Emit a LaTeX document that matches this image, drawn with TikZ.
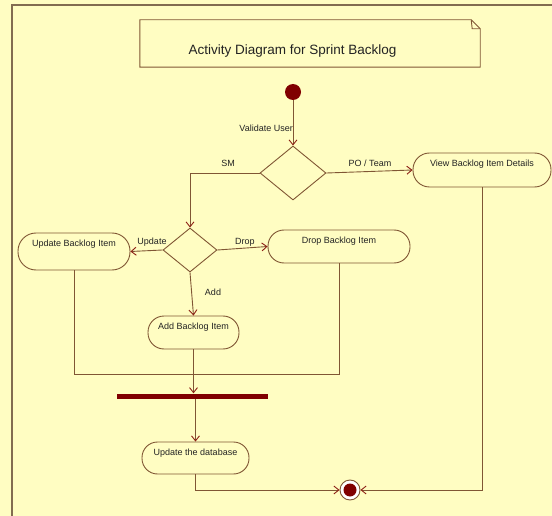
\documentclass[tikz,border=0pt]{standalone}
\usepackage{fontspec}
\setmainfont{Liberation Sans}
\usetikzlibrary{shapes.geometric,arrows.meta}
\definecolor{paper}{RGB}{255,253,194}
\definecolor{ink}{RGB}{128,86,52}
\definecolor{tipred}{RGB}{140,30,20}
\definecolor{mark}{RGB}{128,0,0}
\definecolor{framec}{RGB}{130,108,80}
\definecolor{txt}{RGB}{35,35,35}

\begin{document}
\begin{tikzpicture}[x=1pt,y=-1pt,
  font=\fontsize{9pt}{10pt}\selectfont, text=txt,
  flow/.style={draw=ink,line width=0.9pt},
  arr/.style={flow,-{Straight Barb[length=5pt,width=8pt,color=tipred,line width=0.9pt]}},
  activity/.style n args={3}{rectangle,rounded corners=#3,draw=ink,fill=paper,line width=0.9pt,
    inner sep=0pt,minimum width=#1,text height=13.5pt,text depth=#2},
  decision/.style 2 args={diamond,draw=ink,fill=paper,line width=0.9pt,
    inner sep=0pt,minimum width=#1,minimum height=#2},
  lbl/.style={inner sep=0pt}
]
% canvas and frame
\useasboundingbox (0,0) rectangle (552,516);
\fill[paper] (0,0) rectangle (552,516);
\draw[draw=framec,line width=1.3pt] (12,516) -- (12,5) -- (552,5);

% title note with folded corner
\node[minimum width=340pt,minimum height=47pt,inner sep=0pt] (note) at (310,43.5) {};
\draw[flow,fill=paper] (note.north west) -- ([xshift=-9pt]note.north east)
  -- ([yshift=-9pt]note.north east) -- (note.south east) -- (note.south west) -- cycle;
\draw[flow] ([xshift=-9pt]note.north east) -- ([xshift=-8pt,yshift=-9pt]note.north east)
  -- ([yshift=-9pt]note.north east);
\node[lbl,font=\fontsize{13.5pt}{15pt}\selectfont] (title) at (292.5,51)
  {Activity Diagram for Sprint Backlog};

% start and end
\node[circle,fill=mark,minimum size=16pt,inner sep=0pt] (start) at (293,92) {};
\node[circle,draw=ink,fill=white,line width=0.9pt,minimum size=20pt,inner sep=0pt] (final) at (350,490) {};
\node[circle,fill=mark,minimum size=13pt,inner sep=0pt] (finalcore) at (final) {};

% decisions
\node[decision={66pt}{54pt}] (d1) at (293,173) {};
\node[decision={54pt}{44pt}] (d2) at (190,250) {};

% activities
\node[activity={138pt}{20.5pt}{16.5pt}] (view) at (482,170) {View Backlog Item Details};
\node[activity={112pt}{23.5pt}{18pt}] (update) at (74,251.5) {Update Backlog Item};
\node[activity={142pt}{19.5pt}{16pt}] (drop) at (339,246.5) {Drop Backlog Item};
\node[activity={91pt}{19.5pt}{16pt}] (add) at (193.5,332.5) {Add Backlog Item};
\node[activity={107pt}{18.5pt}{15.5pt}] (db) at (195.5,458) {Update the database};

% synchronisation bar
\node[fill=mark,minimum width=151pt,minimum height=5pt,inner sep=0pt] (bar) at (192.5,396) {};

% connectors
\draw[arr] (start) -- (d1.north);
\draw[arr] (d1.west) -| (d2.north);
\draw[arr] (d1.east) -- (view.west);
\draw[arr] (d2.west) -- (update.east);
\draw[arr] (d2.east) -- (drop.west);
\draw[arr] (d2.south) -- (add.north);
\coordinate (joinR) at (339,374);
\draw[flow] (update.south) |- (joinR) -- (drop.south);
\draw[arr] (add.south) -- (add.south |- bar.north);
\draw[arr] (bar.south -| db.north) -- (db.north);
\draw[arr] (db.south) |- (final.west);
\draw[arr] (view.south) |- (final.east);

% guard labels
\node[lbl,anchor=east] (lvalidate) at (293,128) {Validate User};
\node[lbl] (lsm) at (228,163) {SM};
\node[lbl] (lpo) at (370,163) {PO / Team};
\node[lbl] (lupdate) at (152,242) {Update};
\node[lbl] (ldrop) at (245,242) {Drop};
\node[lbl] (ladd) at (213,292) {Add};
\end{tikzpicture}
\end{document}
